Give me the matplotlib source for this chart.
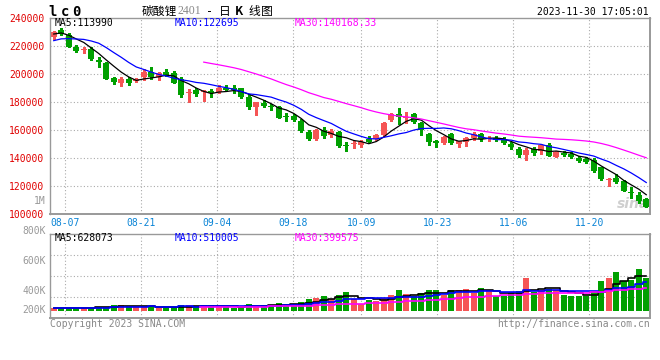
import matplotlib
matplotlib.use('Agg')
import matplotlib.pyplot as plt
import numpy as np
import pandas as pd

plt.rcParams['font.family'] = ['DejaVu Sans Mono', 'Noto Sans CJK SC']

# ---------------- data ----------------
pre_close = [216000, 218500, 219000, 221000, 222000, 225000, 228000, 230000, 230500]
pre_volume = [40, 42, 38, 45, 40, 44, 42, 40, 43]  # thousands

open_ = [226400, 231640, 228070, 219710, 217700, 218070, 210200, 208290, 197100, 194000,
         196400, 195400, 198290, 201430, 198300, 201400, 200700, 196430, 186400, 188600,
         187300, 187900, 187100, 190400, 190200, 190000, 184000, 176860, 179700, 177400,
         176400, 170300, 170300, 166860, 158600, 153800, 160200, 156400, 158600, 149500,
         150000, 149500, 153800, 153600, 156600, 167600, 171500, 169100, 171400, 165000,
         157400, 152400, 150700, 157400, 150400, 151600, 154700, 157400, 154100, 154300,
         153800, 150200, 146600, 142200, 146600, 145400, 149700, 141200, 144100, 143100,
         140500, 139500, 138780, 133570, 124800, 126100, 123800, 115300, 113800, 110700]
high = [231000, 232860, 229290, 220900, 219200, 219290, 212100, 208800, 198300, 198290,
        198300, 197600, 203570, 205430, 202000, 203600, 202400, 198300, 189800, 190000,
        188500, 189300, 192200, 192600, 192100, 190400, 185700, 180300, 181300, 178800,
        177400, 172100, 172000, 167900, 160200, 160900, 162100, 160900, 159500, 152000,
        152400, 153100, 155900, 157300, 166100, 172600, 175700, 173400, 172400, 166100,
        158300, 153100, 156000, 158300, 152600, 155000, 158600, 158300, 155900, 155900,
        155000, 151400, 148300, 147400, 148300, 150200, 151200, 145400, 145400, 144800,
        141700, 141200, 140000, 134000, 126100, 128600, 124500, 119600, 115600, 112000]
low = [225000, 228070, 219300, 216140, 215400, 210300, 205400, 196300, 193000, 191640,
       192400, 194700, 195930, 196430, 196000, 199000, 193800, 183600, 180400, 184500,
       180700, 184000, 186400, 187800, 187000, 183300, 175200, 171000, 176400, 174500,
       168600, 166600, 166600, 158600, 153100, 153100, 154700, 155200, 148400, 145400,
       147100, 148300, 151400, 153400, 155900, 166700, 164600, 165000, 164900, 156600,
       149500, 148300, 150000, 150000, 148300, 149000, 153300, 152600, 152100, 152100,
       150000, 146600, 140700, 138600, 142400, 142900, 141400, 140700, 141600, 140000,
       137600, 136300, 130500, 124600, 120400, 122100, 116400, 111600, 107900, 105000]
close = [230400, 228790, 219710, 216860, 218000, 210710, 209000, 196640, 194700, 196640,
         193570, 196600, 201860, 198290, 200700, 199500, 194000, 185210, 186600, 185600,
         187500, 186400, 190400, 188600, 189000, 184000, 176860, 180000, 177600, 176400,
         169000, 169800, 167400, 159500, 153800, 160200, 155900, 159500, 148800, 149000,
         150400, 151900, 151900, 156600, 165400, 171400, 169300, 169400, 166100, 160200,
         151900, 151200, 155200, 150700, 152100, 154300, 157300, 153600, 154300, 153100,
         151200, 147900, 142400, 146200, 144100, 149500, 141900, 144300, 142400, 140700,
         138300, 137600, 131000, 125000, 125200, 123000, 116900, 115000, 109700, 105300]
volume = [47, 57, 57, 57, 57, 57, 74, 74, 100, 100,
          79, 62, 79, 79, 40, 57, 68, 97, 97, 79,
          97, 97, 68, 68, 57, 79, 125, 79, 97, 97,
          142, 125, 97, 153, 211, 229, 268, 217, 286, 342,
          211, 125, 200, 170, 229, 286, 371, 297, 256, 325,
          371, 371, 286, 371, 371, 393, 314, 406, 371, 268,
          268, 314, 354, 583, 342, 371, 393, 371, 286, 256,
          268, 256, 354, 526, 583, 698, 526, 555, 750, 578]  # thousands

date_labels = ['08-07', '08-21', '09-04', '09-18', '10-09', '10-23', '11-06', '11-20']
date_index = [2, 12, 22, 32, 41, 51, 61, 71]
price_ticks = [100000, 120000, 140000, 160000, 180000, 200000, 220000, 240000]
vol_tick_labels = ['1M', '800K', '600K', '400K', '200K']

ma_labels = ['MA5:113990', 'MA10:122695', 'MA30:140168.33']
vol_ma_labels = ['MA5:628073', 'MA10:510005', 'MA30:399575']

# ---------------- style ----------------
RED = '#f55555'
GREEN = '#00a000'
GRID = '#aaaaaa'
SPINE = '#999999'
MA_COLORS = ['#000000', '#0000ff', '#ff00ff']
DOT = (0, (1.0, 2.0))

W, H = 660, 360
def fx(px):
    return px / W
def fy(py):
    return 1 - py / H

fig = plt.figure(figsize=(6.6, 3.6), dpi=100)
fig.patch.set_facecolor('white')

ax = fig.add_axes([fx(50), fy(214.3), 600 / W, (214.3 - 18.3) / H])
axv = fig.add_axes([fx(50), fy(317.7), 600 / W, (317.7 - 234.3) / H])

n = len(close)
x = np.arange(n)
o = np.array(open_, float)
c = np.array(close, float)
hi = np.array(high, float)
lo = np.array(low, float)
up = c >= o
colors = np.where(up, RED, GREEN)

# moving averages
cs = pd.Series(pre_close + close, dtype=float)
vs = pd.Series(pre_volume + volume, dtype=float)
k = len(pre_close)
mas = [cs.rolling(w).mean().iloc[k:].to_numpy() for w in (5, 10, 30)]
vmas = [vs.rolling(w).mean().iloc[k:].to_numpy() for w in (5, 10, 30)]

grid_x = [d * n / (n - 1) - 0.5 for d in date_index]

# ---------- main panel ----------
for gx in grid_x:
    ax.axvline(gx, color=GRID, lw=0.8, ls=DOT, zorder=0.5)
for pt in price_ticks[1:-1]:
    ax.axhline(pt, color=GRID, lw=0.8, ls=DOT, zorder=0.5)

ax.text((633 - 50) / 600, (214.3 - 204) / 196, 'sina', transform=ax.transAxes,
        fontsize=10, style='italic', weight='bold', color='#cfcfcf',
        family='DejaVu Sans', ha='center', va='center', zorder=0.6)

ax.vlines(x, lo, hi, colors=colors, lw=0.9, zorder=2, antialiased=False)
body_bottom = np.minimum(o, c)
body_h = np.maximum(np.abs(c - o), 700)
ax.bar(x, body_h, bottom=body_bottom, width=0.78, color=colors, linewidth=0,
       zorder=2.5, antialiased=False)
for m, col in zip(mas, MA_COLORS):
    ax.plot(x, m, color=col, lw=0.9, zorder=3)

ax.set_xlim(-0.5, n - 0.5)
ax.set_ylim(100000, 240000)
ax.set_yticks(price_ticks)
ax.set_yticklabels([str(p) for p in price_ticks], color='#e00000', fontsize=7)
ax.set_xticks(grid_x)
ax.set_xticklabels(date_labels, color='#0a84d6', fontsize=7)
ax.tick_params(axis='both', length=0)
ax.tick_params(axis='y', pad=4)
ax.tick_params(axis='x', pad=3)
for s in ax.spines.values():
    s.set_color(SPINE)
    s.set_linewidth(1.0)
ax.spines['bottom'].set_linewidth(1.4)
ax.spines['right'].set_linewidth(1.4)

# ---------- volume panel ----------
for gx in grid_x:
    axv.axvline(gx, color=GRID, lw=0.8, ls=DOT, zorder=0.5)
for f in (0.25, 0.5, 0.75):
    axv.plot([0, 1], [f, f], transform=axv.transAxes, color=GRID, lw=0.8, ls=DOT, zorder=0.5)
axv.bar(x, volume, width=0.78, color=colors, linewidth=0, zorder=2, antialiased=False)
for m, col in zip(vmas, MA_COLORS):
    axv.plot(x, m, color=col, lw=1.2, zorder=3, drawstyle='steps-mid')
axv.set_xlim(-0.5, n - 0.5)
axv.set_ylim(-125, 1368)
axv.set_xticks([])
axv.set_yticks([])
for s in axv.spines.values():
    s.set_color(SPINE)
    s.set_linewidth(1.0)
axv.spines['bottom'].set_linewidth(1.4)
axv.spines['right'].set_linewidth(1.4)

# volume axis labels (Sina places them at fixed rows)
for lab, py in zip(vol_tick_labels, [200.7, 230.7, 261.0, 290.7, 310.0]):
    fig.text(fx(46), fy(py), lab, ha='right', va='center', fontsize=7, color='#999999')

# ---------- header ----------
for ch, px in zip('lc0', [52.8, 65.0, 76.3]):
    fig.text(fx(px), fy(11.5), ch, ha='center', va='center', fontsize=10,
             fontweight='bold', family='DejaVu Sans Mono', color='black')
fig.text(fx(141.5), fy(11.5), '碳酸锂', ha='left', va='center', fontsize=8.5,
         family=['Noto Sans CJK SC'], color='black')
fig.text(fx(177.5), fy(11.5), '2401', ha='left', va='center', fontsize=8.5,
         family='Liberation Serif', color='#888888')
fig.text(fx(210), fy(11.5), '-', ha='center', va='center', fontsize=8.5,
         family='DejaVu Sans Mono', color='black')
for ch, px in zip('日K线图', [225.0, 239.0, 254.2, 267.2]):
    fig.text(fx(px), fy(11.5), ch, ha='center', va='center', fontsize=8.5,
             family=['Noto Sans CJK SC'], color='black',
             fontweight='bold' if ch == 'K' else 'normal')
fig.text(fx(648.5), fy(12.3), '2023-11-30 17:05:01', ha='right', va='center',
         fontsize=7, color='black')

for lab, px, col in zip(ma_labels, [54.3, 174.7, 294.3], MA_COLORS):
    fig.text(fx(px), fy(23.3), lab, ha='left', va='center', fontsize=7, color=col)
for lab, px, col in zip(vol_ma_labels, [54.3, 174.7, 294.3], MA_COLORS):
    fig.text(fx(px), fy(238.3), lab, ha='left', va='center', fontsize=7, color=col)

fig.text(fx(50), fy(324), 'Copyright 2023 SINA.COM', ha='left', va='center',
         fontsize=7, color='#888888')
fig.text(fx(649.5), fy(324), 'http://finance.sina.com.cn', ha='right', va='center',
         fontsize=7, color='#888888')

fig.savefig('out.png', dpi=100, facecolor='white')
